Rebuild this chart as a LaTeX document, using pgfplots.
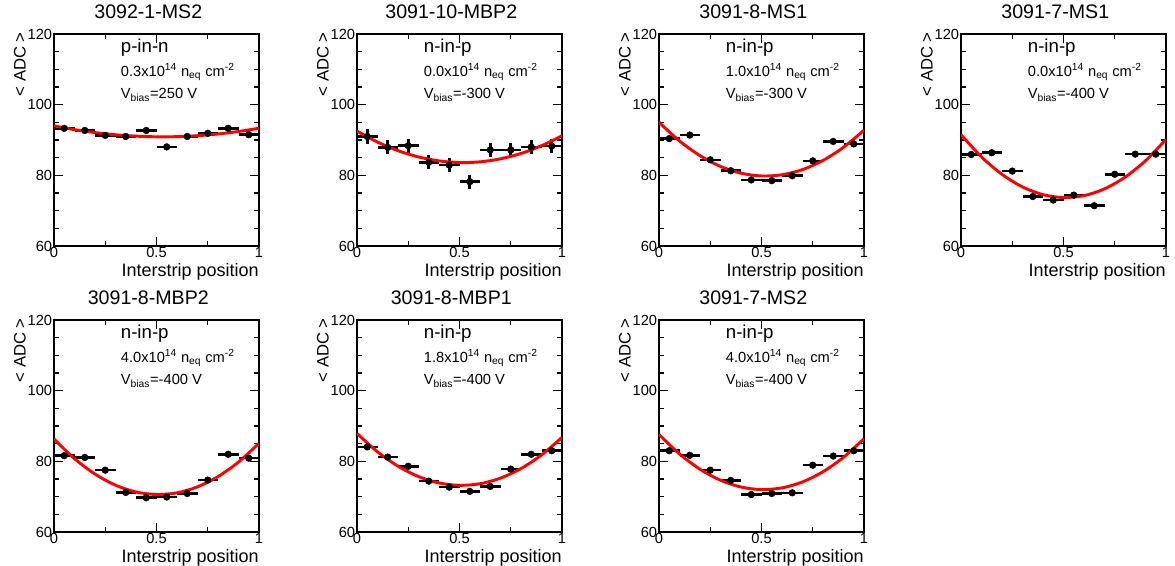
\documentclass[border=0pt]{standalone}
\usepackage{fontspec}
\setmainfont{Liberation Sans}
\usepackage{pgfplots}
\pgfplotsset{compat=1.18}
\pgfplotsset{
  panel/.style={
    scale only axis, width=153.75pt, height=159pt,
    anchor=south west,
    xmin=0, xmax=1, ymin=60, ymax=120,
    axis line style={line width=1pt},
    every tick/.style={line width=1pt, black},
    tick align=inside,
    xtick={0,0.5,1}, xticklabels={0,0.5,1},
    minor xtick={0.25,0.75},
    ytick={60,80,100,120}, yticklabels={60,80,100,120},
    minor ytick={65,70,75,85,90,95,105,110,115},
    major tick length=6.5pt, minor tick length=3.5pt,
    /pgf/number format/assume math mode=true,
    tick label style={font=\fontsize{11}{12}\selectfont},
    yticklabel style={anchor=east, inner sep=0pt, xshift=-1.2pt},
    xticklabel style={anchor=north, inner sep=0pt, yshift=-0.6pt},
    title style={at={(0.46,1)}, anchor=base, inner sep=0pt, yshift=5.5pt, font=\fontsize{14.7}{15}\selectfont},
    after end axis/.code={
      \node[rotate=90, anchor=east, inner sep=0pt, font=\fontsize{12.5}{13}\selectfont]
        at ([xshift=-25.5pt,yshift=1.5pt]rel axis cs:0,1) {< ADC >};
      \node[anchor=north east, inner sep=0pt, font=\fontsize{13.5}{14}\selectfont]
        at ([yshift=-12.75pt]rel axis cs:1,0) {Interstrip position};
    },
  },
  dat/.style={black, only marks, mark=*, mark size=2.5pt, mark options={fill=black, draw=black},
    error bars/.cd, x dir=both, x explicit, y dir=both, y explicit,
    error mark=none, error bar style={line width=1.9pt, black}},
  fit/.style={red, line width=2.2pt, smooth, no marks},
}
\newcommand{\info}[3]{%
  \node[anchor=west, inner sep=0pt, font=\fontsize{14}{15}\selectfont] at (axis description cs:0.325,0.934) {#1};
  \node[anchor=west, inner sep=0pt, font=\fontsize{11}{12}\selectfont] at (axis description cs:0.325,0.82) {#2x10\textsuperscript{14} n\textsubscript{eq} cm\textsuperscript{-2}};
  \node[anchor=west, inner sep=0pt, font=\fontsize{11}{12}\selectfont] at (axis description cs:0.325,0.712) {V\textsubscript{bias}=#3 V};
}
\begin{document}
\begin{tikzpicture}
\path[use as bounding box] (0,0) rectangle (881.25pt,-423.75pt);

% Panel 1
\begin{axis}[panel, at={(40.5pt,-184.5pt)}, title={3092-1-MS2}]
\addplot[dat] coordinates {
(0.05,93.3) +- (0.05,0.5) (0.15,92.7) +- (0.05,0.5) (0.25,91.3) +- (0.05,0.5)
(0.35,91.0) +- (0.05,0.5) (0.45,92.7) +- (0.05,0.5) (0.55,88.05) +- (0.05,0.5)
(0.65,91.0) +- (0.05,0.5) (0.75,91.9) +- (0.05,0.5) (0.85,93.3) +- (0.05,0.5)
(0.95,91.5) +- (0.05,0.5)};
\addplot[fit] coordinates {(0,93.99)(0.1,92.93)(0.2,92.10)(0.3,91.48)(0.4,91.09)(0.5,90.91)(0.6,90.95)(0.7,91.22)(0.8,91.70)(0.9,92.41)(1,93.33)};
\info{p-in-n}{0.3}{250}
\end{axis}

% Panel 2
\begin{axis}[panel, at={(267.75pt,-184.5pt)}, title={3091-10-MBP2}]
\addplot[dat] coordinates {
(0.05,91.0) +- (0.05,2.0) (0.15,87.9) +- (0.05,2.0) (0.25,88.4) +- (0.05,2.0)
(0.35,83.7) +- (0.05,2.0) (0.45,82.9) +- (0.05,2.0) (0.55,78.2) +- (0.05,2.0)
(0.65,87.2) +- (0.05,2.0) (0.75,87.2) +- (0.05,2.0) (0.85,88.0) +- (0.05,2.0)
(0.95,88.3) +- (0.05,2.0)};
\addplot[fit] coordinates {(0,92.52)(0.1,89.42)(0.2,86.98)(0.3,85.20)(0.4,84.08)(0.5,83.61)(0.6,83.81)(0.7,84.67)(0.8,86.19)(0.9,88.37)(1,91.20)};
\info{n-in-p}{0.0}{-300}
\end{axis}

% Panel 3
\begin{axis}[panel, at={(494.25pt,-184.5pt)}, title={3091-8-MS1}]
\addplot[dat] coordinates {
(0.05,90.4) +- (0.05,0.6) (0.15,91.4) +- (0.05,0.6) (0.25,84.4) +- (0.05,0.6)
(0.35,81.3) +- (0.05,0.6) (0.45,78.7) +- (0.05,0.6) (0.55,78.5) +- (0.05,0.6)
(0.65,79.9) +- (0.05,0.6) (0.75,84.1) +- (0.05,0.6) (0.85,89.6) +- (0.05,0.6)
(0.95,88.9) +- (0.05,0.6)};
\addplot[fit] coordinates {(0,95.02)(0.1,89.73)(0.2,85.57)(0.3,82.52)(0.4,80.61)(0.5,79.82)(0.6,80.16)(0.7,81.62)(0.8,84.21)(0.9,87.93)(1,92.77)};
\info{n-in-p}{1.0}{-300}
\end{axis}

% Panel 4
\begin{axis}[panel, at={(720.75pt,-184.5pt)}, title={3091-7-MS1}]
\addplot[dat] coordinates {
(0.05,85.9) +- (0.05,0.8) (0.15,86.4) +- (0.05,0.8) (0.25,81.2) +- (0.05,0.8)
(0.35,74.0) +- (0.05,0.8) (0.45,73.0) +- (0.05,0.8) (0.55,74.4) +- (0.05,0.8)
(0.65,71.4) +- (0.05,0.8) (0.75,80.3) +- (0.05,0.8) (0.85,86.0) +- (0.05,0.8)
(0.95,86.0) +- (0.05,0.8)};
\addplot[fit] coordinates {(0,91.52)(0.1,85.21)(0.2,80.28)(0.3,76.72)(0.4,74.53)(0.5,73.71)(0.6,74.25)(0.7,76.17)(0.8,79.46)(0.9,84.12)(1,90.15)};
\info{n-in-p}{0.0}{-400}
\end{axis}

% Panel 5
\begin{axis}[panel, at={(40.5pt,-399pt)}, title={3091-8-MBP2}]
\addplot[dat] coordinates {
(0.05,81.6) +- (0.05,0.6) (0.15,81.1) +- (0.05,0.6) (0.25,77.5) +- (0.05,0.6)
(0.35,71.2) +- (0.05,0.6) (0.45,69.7) +- (0.05,0.6) (0.55,69.9) +- (0.05,0.6)
(0.65,70.9) +- (0.05,0.6) (0.75,74.7) +- (0.05,0.6) (0.85,82.0) +- (0.05,0.6)
(0.95,80.9) +- (0.05,0.6)};
\addplot[fit] coordinates {(0,86.31)(0.1,80.75)(0.2,76.40)(0.3,73.26)(0.4,71.33)(0.5,70.61)(0.6,71.09)(0.7,72.78)(0.8,75.68)(0.9,79.79)(1,85.10)};
\info{n-in-p}{4.0}{-400}
\end{axis}

% Panel 6
\begin{axis}[panel, at={(267.75pt,-399pt)}, title={3091-8-MBP1}]
\addplot[dat] coordinates {
(0.05,84.1) +- (0.05,0.6) (0.15,81.2) +- (0.05,0.6) (0.25,78.6) +- (0.05,0.6)
(0.35,74.4) +- (0.05,0.6) (0.45,72.7) +- (0.05,0.6) (0.55,71.5) +- (0.05,0.6)
(0.65,72.9) +- (0.05,0.6) (0.75,77.8) +- (0.05,0.6) (0.85,82.0) +- (0.05,0.6)
(0.95,83.0) +- (0.05,0.6)};
\addplot[fit] coordinates {(0,87.90)(0.1,82.70)(0.2,78.63)(0.3,75.69)(0.4,73.88)(0.5,73.21)(0.6,73.66)(0.7,75.24)(0.8,77.95)(0.9,81.79)(1,86.77)};
\info{n-in-p}{1.8}{-400}
\end{axis}

% Panel 7
\begin{axis}[panel, at={(494.25pt,-399pt)}, title={3091-7-MS2}]
\addplot[dat] coordinates {
(0.05,83.0) +- (0.05,0.6) (0.15,81.7) +- (0.05,0.6) (0.25,77.5) +- (0.05,0.6)
(0.35,74.6) +- (0.05,0.6) (0.45,70.6) +- (0.05,0.6) (0.55,70.9) +- (0.05,0.6)
(0.65,71.1) +- (0.05,0.6) (0.75,78.9) +- (0.05,0.6) (0.85,81.5) +- (0.05,0.6)
(0.95,83.0) +- (0.05,0.6)};
\addplot[fit] coordinates {(0,87.61)(0.1,82.09)(0.2,77.77)(0.3,74.65)(0.4,72.73)(0.5,72.01)(0.6,72.49)(0.7,74.17)(0.8,77.05)(0.9,81.13)(1,86.41)};
\info{n-in-p}{4.0}{-400}
\end{axis}
\end{tikzpicture}
\end{document}
